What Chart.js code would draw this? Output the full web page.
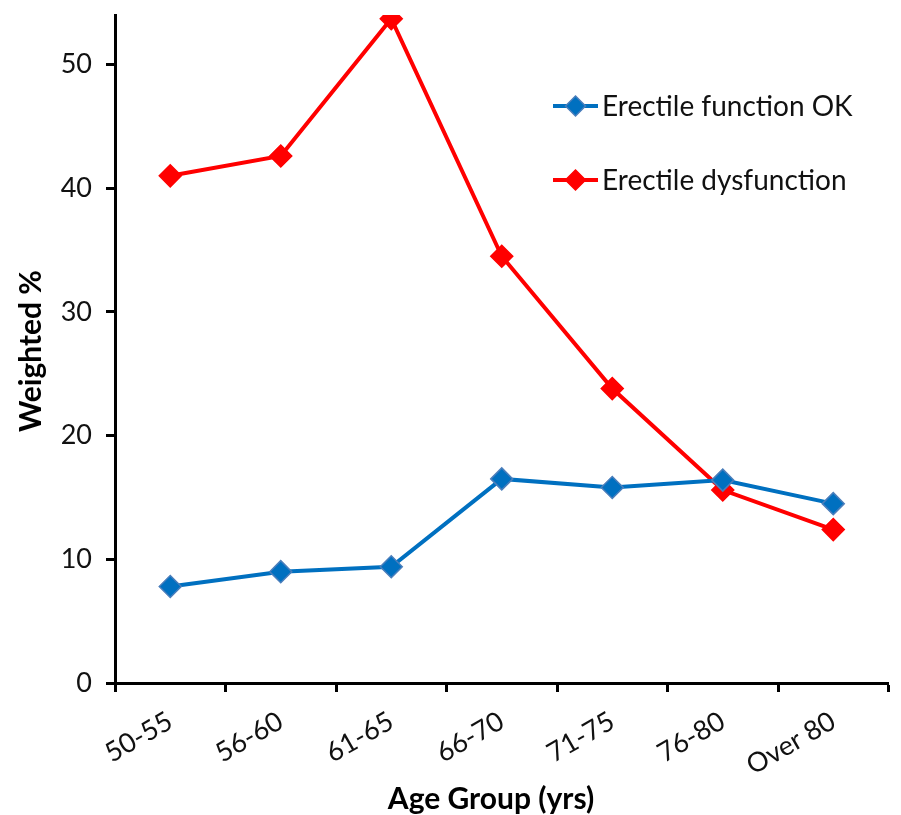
<!DOCTYPE html>
<html>
<head>
<meta charset="utf-8">
<script src="https://cdn.jsdelivr.net/npm/chart.js@4.4.1/dist/chart.umd.min.js"></script>
<style>
  html, body { margin: 0; padding: 0; background: #fff; }
  #wrap { width: 901px; height: 815px; position: relative; }
</style>
</head>
<body>
<div id="wrap"><canvas id="ageChart"></canvas></div>
<script>
  // Age groups and weighted percentages
  var ageGroups = ["50-55", "56-60", "61-65", "66-70", "71-75", "76-80", "Over 80"];
  var functionOk = [7.8, 9.0, 9.4, 16.5, 15.8, 16.4, 14.5];
  var dysfunction = [41.0, 42.6, 53.7, 34.5, 23.8, 15.6, 12.4];

  var FONT = "Lato, 'Open Sans', sans-serif";

  // Legend drawn inside the plot, upper right
  var innerLegend = {
    id: "innerLegend",
    afterDraw: function (chart) {
      var ctx = chart.ctx;
      var x0 = 553, y0 = 106, gap = 74, r = 10;
      chart.data.datasets.forEach(function (ds, i) {
        var y = y0 + i * gap;
        var cx = x0 + 22.5;
        ctx.save();
        ctx.strokeStyle = ds.borderColor;
        ctx.lineWidth = 4;
        ctx.beginPath();
        ctx.moveTo(x0, y);
        ctx.lineTo(x0 + 45, y);
        ctx.stroke();
        ctx.fillStyle = ds.pointBackgroundColor;
        ctx.strokeStyle = ds.pointBorderColor;
        ctx.lineWidth = 1.5;
        ctx.beginPath();
        ctx.moveTo(cx, y - r);
        ctx.lineTo(cx + r, y);
        ctx.lineTo(cx, y + r);
        ctx.lineTo(cx - r, y);
        ctx.closePath();
        ctx.fill();
        ctx.stroke();
        ctx.fillStyle = "#111";
        ctx.font = "28px " + FONT;
        ctx.textBaseline = "middle";
        ctx.textAlign = "left";
        ctx.fillText(ds.label, x0 + 49, y + 1);
        ctx.restore();
      });
    }
  };

  // Axis titles
  var axisTitles = {
    id: "axisTitles",
    afterDraw: function (chart) {
      var ctx = chart.ctx;
      ctx.save();
      ctx.fillStyle = "#000";
      ctx.font = "bold 30px " + FONT;
      ctx.textAlign = "center";
      ctx.textBaseline = "middle";
      ctx.fillText("Age Group (yrs)", 491, 799);
      ctx.translate(31, 351);
      ctx.rotate(-Math.PI / 2);
      ctx.fillText("Weighted %", 0, 0);
      ctx.restore();
    }
  };

  var ctx = document.getElementById("ageChart").getContext("2d");

  new Chart(ctx, {
    type: "line",
    data: {
      labels: ageGroups,
      datasets: [
        {
          label: "Erectile function OK",
          data: functionOk,
          borderColor: "#0070C0",
          borderWidth: 4,
          pointStyle: "rectRot",
          pointRadius: 11,
          pointHoverRadius: 11,
          pointBackgroundColor: "#0070C0",
          pointBorderColor: "#4A7EBB",
          pointBorderWidth: 1.5,
          tension: 0
        },
        {
          label: "Erectile dysfunction",
          data: dysfunction,
          borderColor: "#FF0000",
          borderWidth: 4,
          pointStyle: "rectRot",
          pointRadius: 11,
          pointHoverRadius: 11,
          pointBackgroundColor: "#FF0000",
          pointBorderColor: "#FF0000",
          pointBorderWidth: 1.5,
          tension: 0
        }
      ]
    },
    options: {
      responsive: true,
      maintainAspectRatio: false,
      animation: false,
      layout: { padding: { top: 15, right: 5, left: 0, bottom: 0 } },
      plugins: {
        legend: { display: false },
        tooltip: { enabled: false }
      },
      scales: {
        x: {
          offset: true,
          grid: {
            offset: true,
            drawOnChartArea: false,
            tickLength: 9,
            tickWidth: 3,
            tickColor: "#000"
          },
          border: { display: true, color: "#000", width: 3 },
          ticks: {
            color: "#111",
            font: { family: FONT, size: 27 },
            minRotation: 30,
            maxRotation: 30,
            padding: 13
          },
          afterFit: function (scale) {
            scale.height = 132;
            scale.paddingLeft = 0;
            scale.paddingRight = 0;
          }
        },
        y: {
          min: 0,
          max: 54,
          grid: {
            drawOnChartArea: false,
            tickLength: 9,
            tickWidth: 3,
            tickColor: "#000"
          },
          border: { display: true, color: "#000", width: 3 },
          ticks: {
            stepSize: 10,
            includeBounds: false,
            color: "#111",
            font: { family: FONT, size: 27 },
            padding: 14
          },
          afterFit: function (scale) {
            scale.width = 115;
            scale.paddingTop = 0;
            scale.paddingBottom = 0;
          }
        }
      }
    },
    plugins: [innerLegend, axisTitles]
  });
</script>
</body>
</html>
